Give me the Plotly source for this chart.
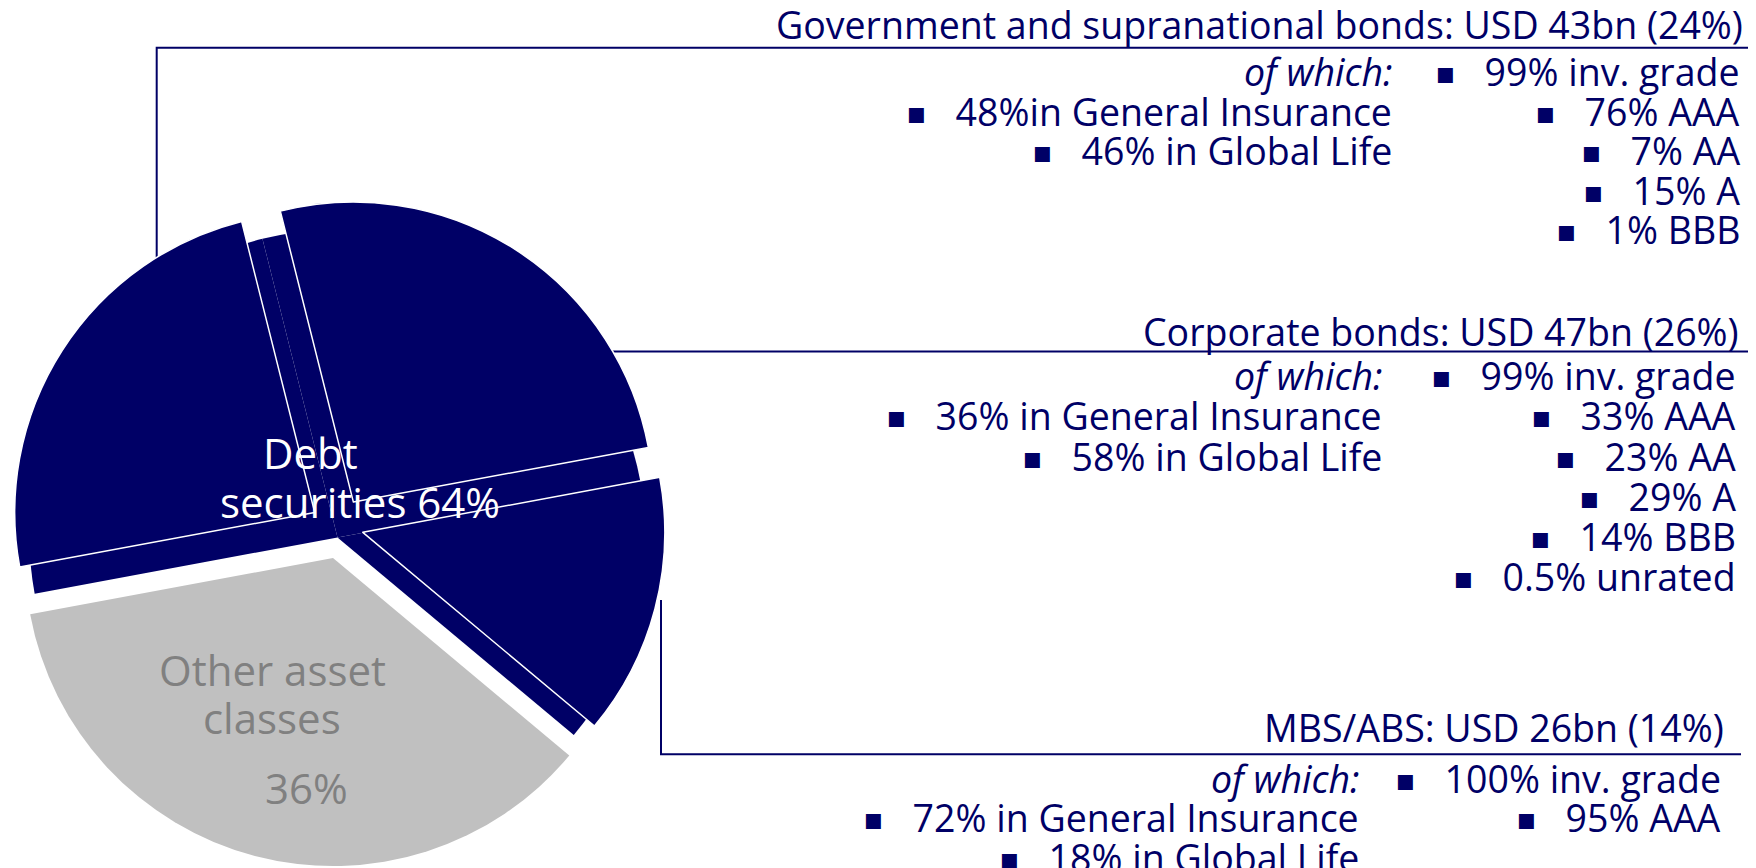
import plotly.graph_objects as go

# reference canvas is 1756x868; the page body adds an 8px margin, so the
# figure is drawn 8px smaller and every layout position is shifted by 8px.
PAGE_W, PAGE_H = 1756, 868
OFF = 8
W, H = PAGE_W - OFF, PAGE_H - OFF
NAVY = "#000066"
GREY = "#C0C0C0"
GREY_TXT = "#808080"
CLEAR = "rgba(0,0,0,0)"
FONT = "Open Sans, DejaVu Sans, sans-serif"

# ---------------- data ----------------
segments = ["Government and supranational bonds", "Corporate bonds", "MBS/ABS", "Other asset classes"]
segment_share = [24, 26, 14, 36]          # % of total investments
segment_usd_bn = [43, 47, 26]             # USD bn
debt_share = 64
other_share = 36

gov_of_which = ["48%in General Insurance", "46% in Global Life"]
gov_ratings = ["99% inv. grade", "76% AAA", "7% AA", "15% A", "1% BBB"]
corp_of_which = ["36% in General Insurance", "58% in Global Life"]
corp_ratings = ["99% inv. grade", "33% AAA", "23% AA", "29% A", "14% BBB", "0.5% unrated"]
mbs_of_which = ["72% in General Insurance", "18% in Global Life"]
mbs_ratings = ["100% inv. grade", "95% AAA"]

# ---------------- helpers (page pixel -> paper) ----------------
def px(x):
    return (x - OFF) / W


def py(y):
    return 1 - (y - OFF) / H


ROT = 259.5
fig = go.Figure()


def pie(colors, cx, cy, r, lw):
    fig.add_trace(go.Pie(
        values=segment_share, labels=segments, sort=False, direction="clockwise",
        rotation=ROT, marker=dict(colors=colors, line=dict(color="white", width=lw)),
        textinfo="none", hoverinfo="skip", showlegend=False,
        domain=dict(x=[px(cx - r), px(cx + r)], y=[py(cy + r), py(cy - r)]),
    ))


# base disc (debt part) and exploded "other" slice
pie([NAVY, NAVY, NAVY, CLEAR], 337.5, 537.5, 308, [0, 0, 0, 0])
pie([CLEAR, CLEAR, CLEAR, GREY], 333, 558, 308, [0, 0, 0, 0])
# exploded debt sub-slices
pie([NAVY, CLEAR, CLEAR, CLEAR], 314.7, 512.4, 300, [1.5, 0, 0, 0])
pie([CLEAR, NAVY, CLEAR, CLEAR], 353.4, 502.1, 300, [0, 1.5, 0, 0])
pie([CLEAR, CLEAR, NAVY, CLEAR], 362.8, 532.3, 302, [0, 0, 1.5, 0])

annotations = []
TS = 37.5


def label(text, x, baseline, size=TS, color=NAVY, anchor="right"):
    yc = baseline - 0.388 * size
    annotations.append(dict(
        text=text, x=px(x), y=py(yc), xref="paper", yref="paper",
        xanchor=anchor, yanchor="middle", showarrow=False,
        font=dict(family=FONT, size=size, color=color)))


BUL = ('<span style="font-family:DejaVu Sans;font-size:30px;baseline-shift:3px">'
       '\u25aa</span>\u00a0\u00a0 ')


def block(i, title_right, title_base, left_right, right_right, first_base, step, of_which, ratings):
    label(f"{segments[i]}: USD {segment_usd_bn[i]}bn ({segment_share[i]}%)", title_right + 3, title_base)
    label("<i>of which:</i>", left_right + 3, first_base)
    for k, t in enumerate(of_which):
        label(BUL + t, left_right + 3, first_base + step * (k + 1))
    for k, t in enumerate(ratings):
        label(BUL + t, right_right + 3, first_base + step * k)


block(0, 1742, 39, 1391, 1739, 86, 39.6, gov_of_which, gov_ratings)
block(1, 1738, 346, 1381, 1735, 390, 40.3, corp_of_which, corp_ratings)
block(2, 1723, 742, 1358, 1720, 793, 39.5, mbs_of_which, mbs_ratings)

# pie labels
label("Debt", 310, 468.3, 42, "white", "center")
label(f"securities {debt_share}%", 359.5, 517.3, 42, "white", "center")
label("Other asset", 272, 686, 42, GREY_TXT, "center")
label("classes", 272, 734, 42, GREY_TXT, "center")
label(f"{other_share}%", 306, 804, 42, GREY_TXT, "center")


def path(pts):
    d = "M " + " L ".join(f"{px(x):.5f},{py(y):.5f}" for x, y in pts)
    return dict(type="path", path=d, xref="paper", yref="paper", layer="below",
                line=dict(color=NAVY, width=2))


shapes = [
    path([(156.7, 262), (156.7, 47.7), (PAGE_W, 47.7)]),
    path([(612, 351.5), (PAGE_W, 351.5)]),
    path([(661, 600), (661, 754.3), (1741, 754.3)]),
]

fig.update_layout(
    width=W, height=H, margin=dict(l=0, r=0, t=0, b=0),
    paper_bgcolor="white", plot_bgcolor="white",
    annotations=annotations, shapes=shapes,
)
fig.write_html("out.html")
